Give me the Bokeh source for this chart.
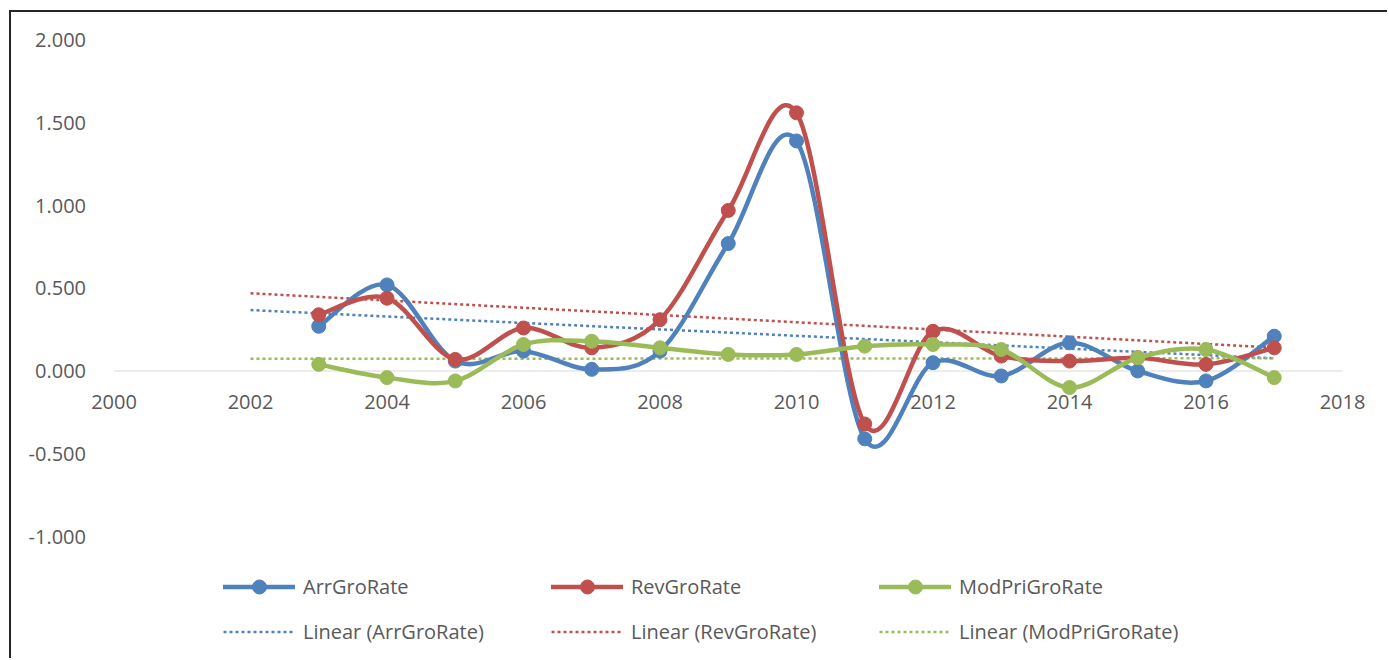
import numpy as np
from bokeh.plotting import figure
from bokeh.models import Legend, LegendItem, FixedTicker, NumeralTickFormatter, Range1d
from bokeh.embed import file_html
from bokeh.resources import INLINE

# ---- data -------------------------------------------------------------
years = list(range(2003, 2018))
arr_gro_rate = [0.27, 0.52, 0.06, 0.12, 0.01, 0.12, 0.77, 1.39, -0.41,
                0.05, -0.03, 0.17, 0.00, -0.06, 0.21]
rev_gro_rate = [0.34, 0.44, 0.07, 0.26, 0.14, 0.31, 0.97, 1.56, -0.32,
                0.24, 0.09, 0.06, 0.08, 0.04, 0.14]
mod_pri_gro_rate = [0.04, -0.04, -0.06, 0.16, 0.18, 0.14, 0.10, 0.10, 0.15,
                    0.16, 0.13, -0.10, 0.08, 0.13, -0.04]
series_names = ["ArrGroRate", "RevGroRate", "ModPriGroRate"]
series_colors = ["#4F81BD", "#C0504D", "#9BBB59"]
trend_years = [2002, 2017]          # trendline span (one period backward)
x_ticks = list(range(2000, 2019, 2))
y_ticks = [-1.0, -0.5, 0.0, 0.5, 1.0, 1.5, 2.0]

FONT = "Open Sans"
TEXT_COLOR = "#595959"

# chart area geometry (pixels) and where the axis extremes land in it
W, H = 1378, 648
X_LEFT_PX, X_RIGHT_PX = 102.5, 1331.0      # x = 2000 .. 2018
Y_TOP_PX, Y_ZERO_PX = 27.5, 358.5          # y = 2.0 .. 0.0


def smooth_segments(xs, ys):
    """Cubic Bezier segments through the points (Catmull-Rom tangents)."""
    x = np.asarray(xs, float)
    y = np.asarray(ys, float)
    xp = np.concatenate([[x[0]], x, [x[-1]]])
    yp = np.concatenate([[y[0]], y, [y[-1]]])
    i = np.arange(len(x) - 1)
    return dict(
        x0=x[:-1], y0=y[:-1], x1=x[1:], y1=y[1:],
        cx0=xp[i + 1] + (xp[i + 2] - xp[i]) / 6.0,
        cy0=yp[i + 1] + (yp[i + 2] - yp[i]) / 6.0,
        cx1=xp[i + 2] - (xp[i + 3] - xp[i + 1]) / 6.0,
        cy1=yp[i + 2] - (yp[i + 3] - yp[i + 1]) / 6.0,
    )


# ranges chosen so the plot frame fills the whole chart area
x0, x1 = x_ticks[0], x_ticks[-1]
px_per_x = (X_RIGHT_PX - X_LEFT_PX) / (x1 - x0)
y_top = y_ticks[-1]
px_per_y = (Y_ZERO_PX - Y_TOP_PX) / y_top
x_range = Range1d(x0 - X_LEFT_PX / px_per_x, x1 + (W - X_RIGHT_PX) / px_per_x)
y_range = Range1d(-(H - Y_ZERO_PX) / px_per_y, y_top + Y_TOP_PX / px_per_y)

p = figure(width=W, height=H, x_range=x_range, y_range=y_range,
           output_backend="svg", toolbar_location=None,
           min_border_left=0, min_border_right=0,
           min_border_top=0, min_border_bottom=0)
p.styles = {"margin-left": "9px", "margin-top": "10px",
            "border-left": "2px solid #262626", "border-top": "2px solid #262626"}
p.background_fill_color = "white"
p.border_fill_color = "white"
p.outline_line_color = None
p.xgrid.visible = False
p.ygrid.visible = False

# x axis labels sit under the zero line
xa = p.xaxis[0]
xa.fixed_location = 0
xa.ticker = FixedTicker(ticks=x_ticks)
xa.axis_line_color = None
xa.major_tick_line_color = None
xa.minor_tick_line_color = None
xa.major_label_text_font = FONT
xa.major_label_text_font_size = "20px"
xa.major_label_text_color = TEXT_COLOR
xa.major_label_standoff = 18

ya = p.yaxis[0]
ya.fixed_location = x0
ya.ticker = FixedTicker(ticks=y_ticks)
ya.formatter = NumeralTickFormatter(format="0.000")
ya.axis_line_color = None
ya.major_tick_line_color = None
ya.minor_tick_line_color = None
ya.major_label_text_font = FONT
ya.major_label_text_font_size = "20px"
ya.major_label_text_color = TEXT_COLOR
ya.major_label_standoff = 22

# horizontal axis line across the tick span
p.line([x0, x1], [0, 0], line_color="#D9D9D9", line_width=1)

all_values = [arr_gro_rate, rev_gro_rate, mod_pri_gro_rate]

# linear trendlines (least squares), drawn beneath the series
trend_renderers = []
for vals, color in zip(all_values, series_colors):
    slope, intercept = np.polyfit(years, vals, 1)
    tx = np.asarray(trend_years, float)
    r = p.line(tx, slope * tx + intercept, line_color=color, line_width=2.5,
               line_dash="3 3")
    trend_renderers.append(r)

series_renderers = []
for vals, color in zip(all_values, series_colors):
    seg = smooth_segments(years, vals)
    rb = p.bezier(line_color=color, line_width=4.5, line_cap="round", **seg)
    rs = p.scatter(years, vals, marker="circle", size=14,
                   fill_color=color, line_color=color)
    series_renderers.append((rb, rs))

items = [LegendItem(label=n, renderers=list(rr))
         for n, rr in zip(series_names, series_renderers)]
items += [LegendItem(label=f"Linear ({n})", renderers=[r])
          for n, r in zip(series_names, trend_renderers)]

legend = Legend(items=items, orientation="horizontal", ncols=3,
                location=(212, 11), padding=0, margin=0, spacing=10,
                glyph_width=72, glyph_height=35, label_standoff=8,
                label_width=238, label_height=35, label_text_font=FONT,
                label_text_font_size="20px", label_text_color=TEXT_COLOR,
                background_fill_alpha=0, border_line_color=None)
p.add_layout(legend, "center")

open("out.html", "w").write(file_html(p, INLINE))
